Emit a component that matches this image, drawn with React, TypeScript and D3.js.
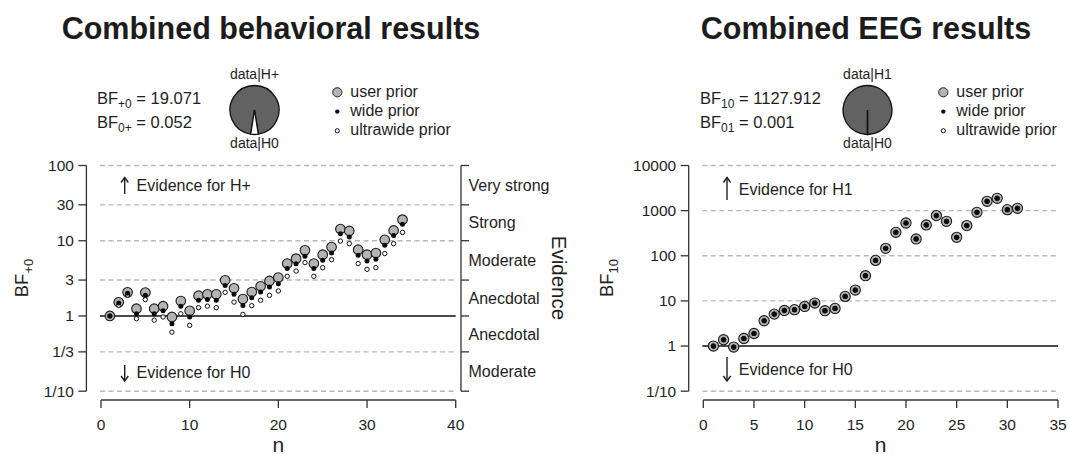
import React from "react";
import * as d3 from "d3";

// behavioral data (n = 1..34)
const nBeh = [1, 2, 3, 4, 5, 6, 7, 8, 9, 10, 11, 12, 13, 14, 15, 16, 17, 18, 19, 20, 21, 22, 23, 24, 25, 26, 27, 28, 29, 30, 31, 32, 33, 34];
const behUser = [1, 1.52, 2.06, 1.25, 2.05, 1.25, 1.35, 0.97, 1.58, 1.17, 1.86, 1.94, 1.94, 2.98, 2.33, 1.68, 2.08, 2.48, 2.92, 3.24, 4.97, 5.78, 7.45, 4.97, 6.53, 8.25, 14.3, 13.5, 7.6, 6.53, 6.87, 10.3, 13.7, 19.07];
const behWide = [1, 1.49, 2.0, 1.07, 1.88, 1.07, 1.17, 0.79, 1.35, 0.97, 1.62, 1.65, 1.62, 2.55, 1.94, 1.38, 1.75, 2.08, 2.43, 2.69, 4.26, 4.96, 6.21, 4.26, 5.49, 6.87, 12.4, 11.2, 6.4, 5.37, 5.66, 8.7, 11.7, 16.5];
const behUltra = [1, 1.39, 1.9, 0.92, 1.65, 0.88, 0.97, 0.61, 1.07, 0.75, 1.29, 1.35, 1.29, 2.06, 1.53, 1.05, 1.37, 1.62, 1.88, 2.15, 3.37, 3.96, 5.12, 3.37, 4.39, 5.61, 9.9, 9.15, 4.97, 4.17, 4.39, 6.75, 9.15, 12.9];

// EEG data (n = 1..31), all three priors overlap
const nEeg = [1, 2, 3, 4, 5, 6, 7, 8, 9, 10, 11, 12, 13, 14, 15, 16, 17, 18, 19, 20, 21, 22, 23, 24, 25, 26, 27, 28, 29, 30, 31];
const eegUser = [1.0, 1.38, 0.95, 1.47, 1.9, 3.64, 5.1, 6.15, 6.4, 7.55, 8.98, 6.07, 6.82, 12.6, 17.4, 36.2, 79, 146, 331, 533, 236, 482, 776, 580, 256, 466, 918, 1611, 1875, 1052, 1128];
const eegWide = eegUser;
const eegUltra = eegUser;

// final Bayes factors
const behBF = { h1: 19.071, h0: 0.052 };
const eegBF = { h1: 1127.912, h0: 0.001 };

// axis ticks
const behYTicks = [100, 30, 10, 3, 1, 1 / 3, 1 / 10];
const behYLabels = ["100", "30", "10", "3", "1", "1/3", "1/10"];
const eegYTicks = [10000, 1000, 100, 10, 1, 0.1];
const eegYLabels = ["10000", "1000", "100", "10", "1", "1/10"];
const behXTicks = [0, 10, 20, 30, 40];
const eegXTicks = [0, 5, 10, 15, 20, 25, 30, 35];
const evidenceCats = ["Very strong", "Strong", "Moderate", "Anecdotal", "Anecdotal", "Moderate"];

const legendLabels = ["user prior", "wide prior", "ultrawide prior"];

const FONT = "'Liberation Sans', Arial, Helvetica, sans-serif";
const INK = "#1e1e1e";
const GRAY = "#b4b4b4";

const Arrow = ({ x, y1, y2, up }) => {
  const tip = up ? y1 : y2;
  const d = up ? 5 : -5;
  return (
    <g stroke={INK} strokeWidth={1.4} fill="none">
      <line x1={x} x2={x} y1={y1} y2={y2} />
      <path d={`M${x - 3.6},${tip + d} L${x},${tip} L${x + 3.6},${tip + d}`} />
    </g>
  );
};

const Header = ({ bf, h1Sub, h0Sub, h1Label, textX, pieX, legX }) => {
  // posterior model probabilities with equal prior odds: P(H0|data) = BF01 / (1 + BF01)
  const probs = [1, bf.h0];
  const a = (2 * Math.PI * bf.h0) / (1 + bf.h0);
  const pie = d3
    .pie()
    .sort(null)
    .startAngle(Math.PI + a / 2)
    .endAngle(Math.PI + a / 2 + 2 * Math.PI);
  const slices = pie(probs);
  const arc = d3.arc().innerRadius(0).outerRadius(24.5).digits(6);
  const pieY = 110;
  return (
    <g fontFamily={FONT} fill={INK}>
      <text x={textX} y={104} fontSize={16.5}>
        BF<tspan fontSize={12} dy={4}>{h1Sub}</tspan>
        <tspan dy={-4}>{` = ${bf.h1.toFixed(3)}`}</tspan>
      </text>
      <text x={textX} y={128} fontSize={16.5}>
        BF<tspan fontSize={12} dy={4}>{h0Sub}</tspan>
        <tspan dy={-4}>{` = ${bf.h0.toFixed(3)}`}</tspan>
      </text>
      <g transform={`translate(${pieX},${pieY})`}>
        {slices.map((s, i) => (
          <path key={i} d={arc(s)} fill={i === 0 ? "#626262" : "#ffffff"} stroke="#111" strokeWidth={1.3} strokeLinejoin="miter" />
        ))}
      </g>
      <text x={pieX} y={79} fontSize={14} textAnchor="middle">{`data|${h1Label}`}</text>
      <text x={pieX} y={148} fontSize={14} textAnchor="middle">data|H0</text>
      {legendLabels.map((lab, i) => (
        <g key={lab}>
          {i === 0 && <circle cx={legX} cy={92.3} r={4.6} fill={GRAY} stroke="#222" strokeWidth={1} />}
          {i === 1 && <circle cx={legX} cy={111.6} r={2.2} fill="#111" />}
          {i === 2 && <circle cx={legX} cy={130.8} r={2.1} fill="#fff" stroke="#111" strokeWidth={1} />}
          <text x={legX + 13} y={96.7 + i * 19.3} fontSize={16}>{lab}</text>
        </g>
      ))}
    </g>
  );
};

const Panel = ({ n, user, wide, ultra, xDomain, xRange, yDomain, yTicks, yLabels, xTicks, yLab, yLabX, hLab, bigPoints, arrowUp, arrowDown, textUpY, textDownY }) => {
  const x = d3.scaleLinear().domain(xDomain).range(xRange);
  const y = d3.scaleLog().domain(yDomain).range([391.2, 165.5]);
  const [x0, x1] = xRange;
  const axisX = x0 - 14.6;
  const tickTop = y(yDomain[1]);
  const tickBot = y(yDomain[0]);
  const axisY = 400;

  return (
    <g fontFamily={FONT} fill={INK}>
      {/* gridlines */}
      {yTicks.map((t) => (
        <line
          key={t}
          x1={x0 - 1}
          x2={x1}
          y1={y(t)}
          y2={y(t)}
          stroke={t === 1 ? "#111" : "#b8b8b8"}
          strokeWidth={t === 1 ? 1.6 : 1.4}
          strokeDasharray={t === 1 ? null : "5,3.5"}
        />
      ))}

      {/* y axis */}
      <line x1={axisX} x2={axisX} y1={tickTop} y2={tickBot} stroke="#333" strokeWidth={1.3} />
      {yTicks.map((t, i) => (
        <g key={t}>
          <line x1={axisX - 8} x2={axisX} y1={y(t)} y2={y(t)} stroke="#333" strokeWidth={1.3} />
          <text x={axisX - 12.5} y={y(t)} dy="0.35em" textAnchor="end" fontSize={15.5}>
            {yLabels[i]}
          </text>
        </g>
      ))}
      <text transform={`translate(${yLabX},${278}) rotate(-90)`} textAnchor="middle" fontSize={18.5}>
        BF<tspan fontSize={13} dy={4.5}>{yLab}</tspan>
      </text>

      {/* x axis */}
      <line x1={x(xDomain[0])} x2={x(xDomain[1])} y1={axisY} y2={axisY} stroke="#333" strokeWidth={1.3} />
      {xTicks.map((t) => (
        <g key={t}>
          <line x1={x(t)} x2={x(t)} y1={axisY} y2={axisY + 8} stroke="#333" strokeWidth={1.3} />
          <text x={x(t)} y={430} textAnchor="middle" fontSize={15.5}>
            {t}
          </text>
        </g>
      ))}
      <text x={(x0 + x1) / 2} y={452} textAnchor="middle" fontSize={21}>
        n
      </text>

      {/* evidence annotations */}
      <Arrow x={x0 + 23.7} y1={arrowUp[0]} y2={arrowUp[1]} up />
      <text x={x0 + 35.5} y={textUpY} fontSize={16}>{`Evidence for ${hLab}`}</text>
      <Arrow x={x0 + 23.7} y1={arrowDown[0]} y2={arrowDown[1]} up={false} />
      <text x={x0 + 35.5} y={textDownY} fontSize={16}>Evidence for H0</text>

      {/* points */}
      {n.map((v, i) => (
        <circle key={`u${v}`} cx={x(v)} cy={y(user[i])} r={bigPoints ? 5.1 : 4.8} fill={GRAY} stroke="#1a1a1a" strokeWidth={1.1} />
      ))}
      {n.map((v, i) => (
        <circle key={`x${v}`} cx={x(v)} cy={y(ultra[i])} r={2.2} fill="#fff" stroke="#111" strokeWidth={1} />
      ))}
      {n.map((v, i) => (
        <circle key={`w${v}`} cx={x(v)} cy={y(wide[i])} r={bigPoints ? 2.6 : 2.5} fill="#0a0a0a" />
      ))}
    </g>
  );
};

const EvidenceAxis = ({ ticks, xPos }) => {
  const y = d3.scaleLog().domain([0.1, 100]).range([391.2, 165.5]);
  return (
    <g fontFamily={FONT} fill={INK}>
      <line x1={xPos} x2={xPos} y1={y(100)} y2={y(0.1)} stroke="#333" strokeWidth={1.3} />
      {ticks.map((t) => (
        <line key={t} x1={xPos} x2={xPos + 8} y1={y(t)} y2={y(t)} stroke="#333" strokeWidth={1.3} />
      ))}
      {evidenceCats.map((c, i) => (
        <text key={i} x={xPos + 7.5} y={y(Math.sqrt(ticks[i] * ticks[i + 1]))} dy="0.35em" fontSize={16}>
          {c}
        </text>
      ))}
      <text transform={`translate(${xPos + 90.5},278) rotate(90)`} textAnchor="middle" fontSize={20.5}>
        Evidence
      </text>
    </g>
  );
};

export default function App() {
  return (
    <svg width={1069} height={455} style={{ position: "absolute", left: 0, top: 0, background: "#fff" }}>
      <rect width={1069} height={455} fill="#fff" />
      <text x={271} y={39} textAnchor="middle" fontFamily={FONT} fontWeight="bold" fontSize={30.5} fill="#1c1c1c">
        Combined behavioral results
      </text>
      <text x={866} y={39} textAnchor="middle" fontFamily={FONT} fontWeight="bold" fontSize={30.5} fill="#1c1c1c">
        Combined EEG results
      </text>

      <Header bf={behBF} h1Sub="+0" h0Sub="0+" h1Label="H+" textX={97} pieX={254.5} legX={337.3} />
      <Header bf={eegBF} h1Sub="10" h0Sub="01" h1Label="H1" textX={700} pieX={867.5} legX={943.3} />

      <Panel
        n={nBeh}
        user={behUser}
        wide={behWide}
        ultra={behUltra}
        xDomain={[0, 40]}
        xRange={[101, 455.7]}
        yDomain={[0.1, 100]}
        yTicks={behYTicks}
        yLabels={behYLabels}
        xTicks={behXTicks}
        yLab="+0"
        yLabX={28}
        hLab="H+"
        bigPoints={false}
        arrowUp={[177.5, 194]}
        arrowDown={[365, 381]}
        textUpY={191}
        textDownY={378}
      />
      <EvidenceAxis ticks={behYTicks} xPos={461} />

      <Panel
        n={nEeg}
        user={eegUser}
        wide={eegWide}
        ultra={eegUltra}
        xDomain={[0, 35]}
        xRange={[703.3, 1058]}
        yDomain={[0.1, 10000]}
        yTicks={eegYTicks}
        yLabels={eegYLabels}
        xTicks={eegXTicks}
        yLab="10"
        yLabX={613}
        hLab="H1"
        bigPoints={true}
        arrowUp={[177.5, 200]}
        arrowDown={[357, 381]}
        textUpY={195}
        textDownY={375}
      />
    </svg>
  );
}
